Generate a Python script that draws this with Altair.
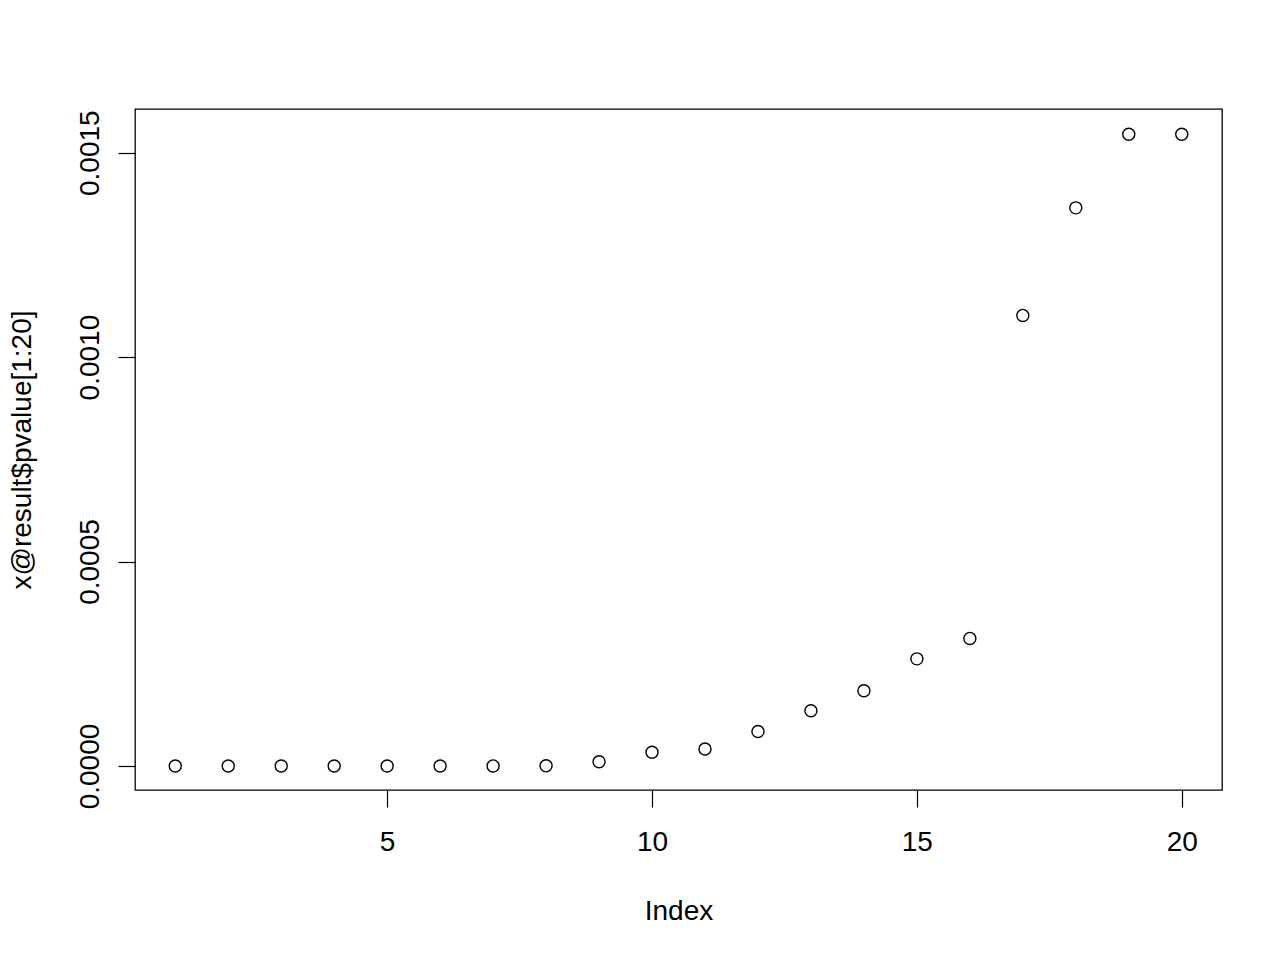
import altair as alt
import pandas as pd

index = list(range(1, 21))
pvalue = [0.0000000, 0.0000000, 0.0000000, 0.0000000, 0.0000001, 0.0000001,
          0.0000002, 0.0000004, 0.0000105, 0.0000335, 0.0000416, 0.0000843,
          0.0001350, 0.0001840, 0.0002620, 0.0003120, 0.0011020, 0.0013650,
          0.0015450, 0.0015450]
x_ticks = [5, 10, 15, 20]
y_ticks = [0.0, 0.0005, 0.0010, 0.0015]

df = pd.DataFrame({"Index": index, "pvalue": pvalue})

W, H = 1087, 681
FONT = "Liberation Sans"

chart = alt.Chart(df).mark_point(
    shape="circle", filled=False, size=145, stroke="black", strokeWidth=1.4, opacity=1
).encode(
    x=alt.X("Index:Q",
            scale=alt.Scale(domain=[0.24, 20.76], nice=False, zero=False),
            axis=alt.Axis(values=x_ticks, format="d", title="Index",
                          domain=False, grid=False, tickSize=17, tickColor="black",
                          tickWidth=1.2, labelPadding=21, labelBaseline="top",
                          labelFontSize=28, labelFont=FONT, labelColor="black",
                          titleFontSize=28, titleFont=FONT, titleColor="black",
                          titleFontWeight="normal", titleBaseline="alphabetic",
                          titleX=W / 2, titleY=129, labelFlush=False)),
    y=alt.Y("pvalue:Q",
            scale=alt.Scale(domain=[-0.0000587, 0.0016068], nice=False, zero=False),
            axis=alt.Axis(values=y_ticks, format=".4f", title="x@result$pvalue[1:20]",
                          domain=False, grid=False, tickSize=17, tickColor="black",
                          tickWidth=1.2, labelPadding=20, labelAngle=270,
                          labelAlign="center", labelBaseline="alphabetic",
                          labelFontSize=28, labelFont=FONT, labelColor="black",
                          titleFontSize=28, titleFont=FONT, titleColor="black",
                          titleFontWeight="normal", titleAngle=270,
                          titleBaseline="alphabetic", titleAlign="center",
                          titleX=-105, titleY=H / 2, labelFlush=False)),
).properties(
    width=W, height=H,
    autosize=alt.AutoSizeParams(type="none"),
    padding={"left": 127, "top": 101, "right": 50, "bottom": 157},
    background="white",
).configure_view(
    stroke="black", strokeWidth=1.3
)

chart.save("out.html", embed_options={"renderer": "svg", "actions": False})
